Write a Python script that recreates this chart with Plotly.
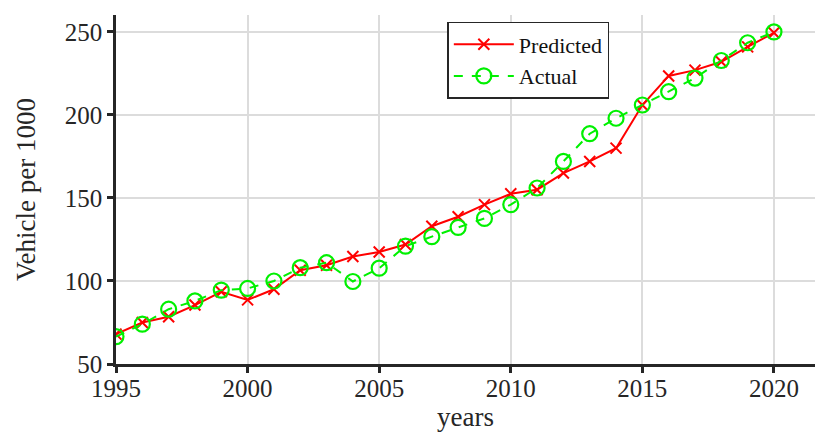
import plotly.graph_objects as go

years = list(range(1995, 2021))
predicted = [68, 75, 78.5, 85.5, 93.5, 88.6, 95, 106.5, 109.5, 114.7, 117.5, 122, 133, 138.7,
             146, 152.5, 155, 165, 172, 180, 206, 223.5, 227, 232, 241, 249.5]
actual = [66.5, 74, 83, 88, 94.5, 95.5, 100, 108, 111, 99.7, 107.7, 121, 126.7, 132.3,
          137.7, 146, 156, 172, 188.7, 198, 206, 214, 222.2, 232.8, 243.5, 250]

font = "Liberation Serif, Times New Roman, serif"

fig = go.Figure()
fig.add_trace(go.Scatter(
    x=years, y=predicted, name="Predicted", mode="lines+markers",
    line=dict(color="#ff0000", width=2),
    marker=dict(symbol="x-thin", size=11, line=dict(color="#ff0000", width=2), color="#ff0000"),
))
fig.add_trace(go.Scatter(
    x=years, y=actual, name="Actual", mode="lines+markers",
    line=dict(color="#00f000", width=2, dash="dash"),
    marker=dict(symbol="circle-open", size=15, line=dict(color="#00f000", width=2.2), color="#00f000"),
))

fig.update_layout(
    width=815, height=439,
    margin=dict(l=116, r=0, t=15, b=75),
    paper_bgcolor="white", plot_bgcolor="white",
    font=dict(family=font, size=25, color="#262626"),
    showlegend=True,
    legend=dict(x=0.474, y=0.98, xanchor="left", yanchor="top",
                bgcolor="white", bordercolor="#262626", borderwidth=1.5,
                font=dict(family=font, size=22, color="#111111"),
                tracegroupgap=0, itemwidth=60),
)
fig.update_xaxes(
    range=[1995, 2021.56], tickvals=[1995, 2000, 2005, 2010, 2015, 2020],
    showgrid=True, gridcolor="#dcdcdc", gridwidth=1.5,
    showline=True, linecolor="#262626", linewidth=2.5,
    ticks="outside", ticklen=6, tickwidth=2.5, tickcolor="#262626",
    ticklabelstandoff=-6,
    zeroline=False, automargin=False,
    title=dict(text="years", font=dict(family=font, size=27), standoff=7),
)
fig.update_yaxes(
    range=[50, 260.2], tickvals=[50, 100, 150, 200, 250],
    showgrid=True, gridcolor="#dcdcdc", gridwidth=1.5,
    showline=True, linecolor="#262626", linewidth=2.5,
    ticks="outside", ticklen=6, tickwidth=2.5, tickcolor="#262626",
    zeroline=False, automargin=False,
    title=dict(text="Vehicle per 1000", font=dict(family=font, size=27), standoff=22),
)

fig.write_html(
    "out.html",
    config={"displayModeBar": False},
    post_script="document.body.style.margin='0';document.body.style.overflow='hidden';",
)
